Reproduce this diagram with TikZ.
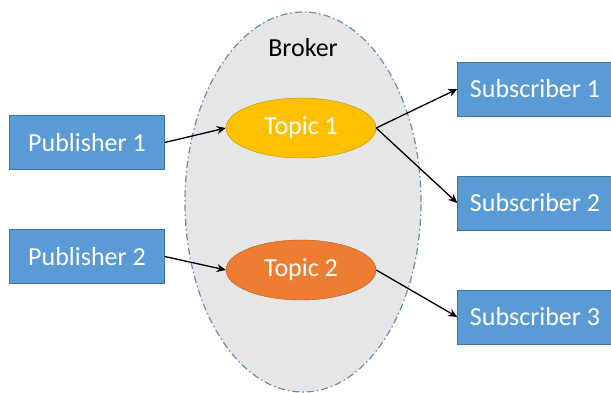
\documentclass[tikz,border=0pt]{standalone}
\usepackage{fontspec}
\setmainfont{Carlito}
\usetikzlibrary{shapes.geometric,arrows.meta}

\definecolor{boxblue}{HTML}{5B9BD5}
\definecolor{boxedge}{HTML}{41719C}
\definecolor{topicyellow}{HTML}{FFC000}
\definecolor{topicyedge}{HTML}{BF9000}
\definecolor{topicorange}{HTML}{ED7D31}
\definecolor{topicoedge}{HTML}{AE5A21}
\definecolor{brokergray}{HTML}{E7E6E6}

\tikzset{
  client/.style={draw=boxedge, fill=boxblue, text=white, minimum width=155pt,
    minimum height=54pt, font=\fontsize{26}{30}\selectfont},
  topic/.style={ellipse, text=white, minimum width=150pt, minimum height=60pt,
    inner sep=0pt, font=\fontsize{26}{30}\selectfont},
  msg/.style={-{Stealth[length=9pt,width=8pt]}, line width=1.3pt},
}

\begin{document}
\begin{tikzpicture}[x=1pt,y=1pt]
  \useasboundingbox (0,0) rectangle (611,393);

  % the broker holding both topics
  \node[ellipse, draw=boxedge!80, fill=brokergray, line width=1.2pt,
    dash pattern=on 7pt off 3pt on 1.5pt off 3pt, minimum width=236pt,
    minimum height=380pt, inner sep=0pt] (broker) at (303,191) {};
  \node[font=\fontsize{26}{30}\selectfont] (brokerlabel) at (303,345) {Broker};

  \node[topic, draw=topicyedge, fill=topicyellow] (t1) at (301,265) {Topic 1};
  \node[topic, draw=topicoedge, fill=topicorange] (t2) at (301,123) {Topic 2};

  \node[client] (p1) at (87,250.5) {Publisher 1};
  \node[client] (p2) at (87,136.5) {Publisher 2};

  \node[client] (s1) at (535,304) {Subscriber 1};
  \node[client] (s2) at (535,190) {Subscriber 2};
  \node[client] (s3) at (535,76) {Subscriber 3};

  \draw[msg] (p1.east) -- (t1.west);
  \draw[msg] (p2.east) -- (t2.west);
  \draw[msg] (t1.east) -- (s1.west);
  \draw[msg] (t1.east) -- (s2.west);
  \draw[msg] (t2.east) -- (s3.west);
\end{tikzpicture}
\end{document}
